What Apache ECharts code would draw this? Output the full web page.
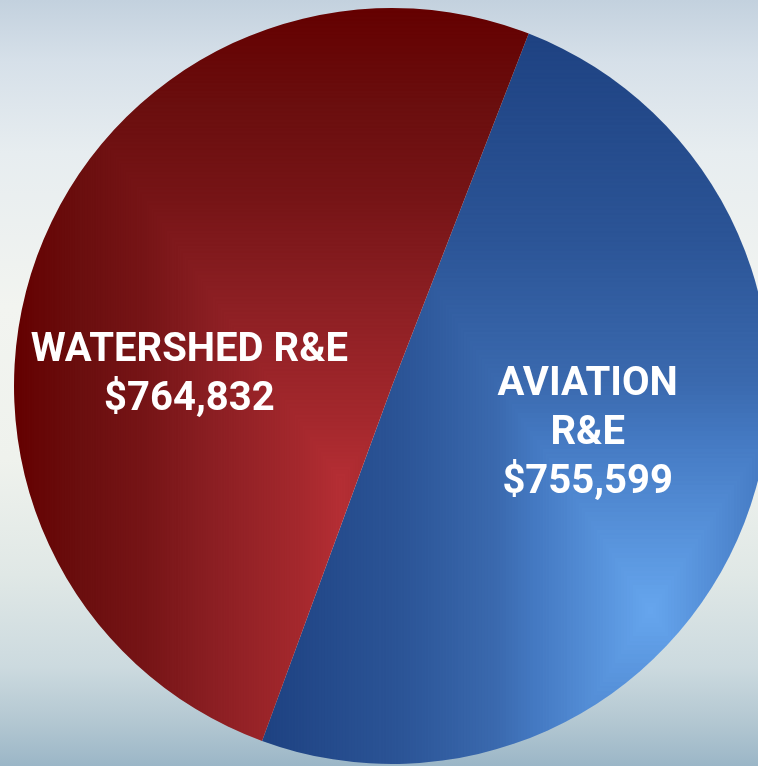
<!DOCTYPE html>
<html>
<head>
<meta charset="utf-8">
<script src="https://cdn.jsdelivr.net/npm/echarts@6/dist/echarts.min.js"></script>
<style>
  html, body { margin: 0; padding: 0; }
  #chart { width: 758px; height: 766px; }
</style>
</head>
<body>
<div id="chart"></div>
<script>
  // data
  const names = ['AVIATION\nR&E', 'WATERSHED R&E']
  const values = [755599, 764832]

  const W = 758
  const H = 766

  // colour ramp (t = 0 light centre, t = 1 dark edge)
  const blueStops = [[0, '#66a6ee'], [0.3, '#4479c2'], [0.4, '#3a69ae'], [0.65, '#2b5496'], [1, '#1e4282']]
  const redStops = [[0, '#b52e34'], [0.12, '#a5282d'], [0.4, '#8a1e22'], [0.6, '#761416'], [0.8, '#6a0e0e'], [1, '#640000']]

  function ramp(stops) {
    const c = document.createElement('canvas')
    c.width = 256
    c.height = 1
    const g = c.getContext('2d')
    const grd = g.createLinearGradient(0, 0, 256, 0)
    stops.forEach(s => grd.addColorStop(s[0], s[1]))
    g.fillStyle = grd
    g.fillRect(0, 0, 256, 1)
    return g.getImageData(0, 0, 256, 1).data
  }

  // rectangular (path) gradient like the office chart fill
  function pathFill(stops, cx, cy, wx, wyUp, wyDown) {
    const lut = ramp(stops)
    const c = document.createElement('canvas')
    c.width = W
    c.height = H
    const g = c.getContext('2d')
    const img = g.createImageData(W, H)
    for (let y = 0; y < H; y++) {
      const ty = y < cy ? (cy - y) / wyUp : (y - cy) / wyDown
      for (let x = 0; x < W; x++) {
        let t = Math.max(Math.abs(x - cx) / wx, ty)
        if (t > 1) t = 1
        const k = Math.round(t * 255) * 4
        const p = (y * W + x) * 4
        img.data[p] = lut[k]
        img.data[p + 1] = lut[k + 1]
        img.data[p + 2] = lut[k + 2]
        img.data[p + 3] = 255
      }
    }
    g.putImageData(img, 0, 0)
    return { image: c, repeat: 'no-repeat' }
  }

  const fills = [
    pathFill(blueStops, 650, 610, 385, 575, 575),
    pathFill(redStops, 340, 480, 326, 470, 1e9)
  ]

  const chart = echarts.init(document.getElementById('chart'))
  const option = {
    animation: false,
    backgroundColor: new echarts.graphic.LinearGradient(0, 0, 0, 1, [
      { offset: 0, color: '#c3d1de' },
      { offset: 0.08, color: '#d6e0e9' },
      { offset: 0.2, color: '#e7edf0' },
      { offset: 0.4, color: '#f2f4f0' },
      { offset: 0.6, color: '#eff2ed' },
      { offset: 0.75, color: '#e0e8e6' },
      { offset: 0.87, color: '#ccdadf' },
      { offset: 0.94, color: '#b4c8d2' },
      { offset: 1, color: '#9bb6c7' }
    ]),
    series: [
      {
        type: 'pie',
        center: [392, 386],
        radius: 378,
        startAngle: 68.8,
        clockwise: true,
        silent: true,
        itemStyle: { borderWidth: 0 },
        label: {
          show: true,
          position: 'inside',
          color: '#ffffff',
          fontFamily: 'Roboto',
          fontWeight: 'bold',
          fontSize: 40,
          lineHeight: 49,
          align: 'center',
          formatter: p => p.name + '\n$' + p.value.toLocaleString('en-US')
        },
        labelLayout: p => (p.dataIndex === 0 ? { dx: 16, dy: -20 } : { dx: -23, dy: 57 }),
        labelLine: { show: false },
        data: names.map((n, i) => ({ name: n, value: values[i], itemStyle: { color: fills[i] } }))
      }
    ]
  }
  chart.setOption(option)
</script>
</body>
</html>
